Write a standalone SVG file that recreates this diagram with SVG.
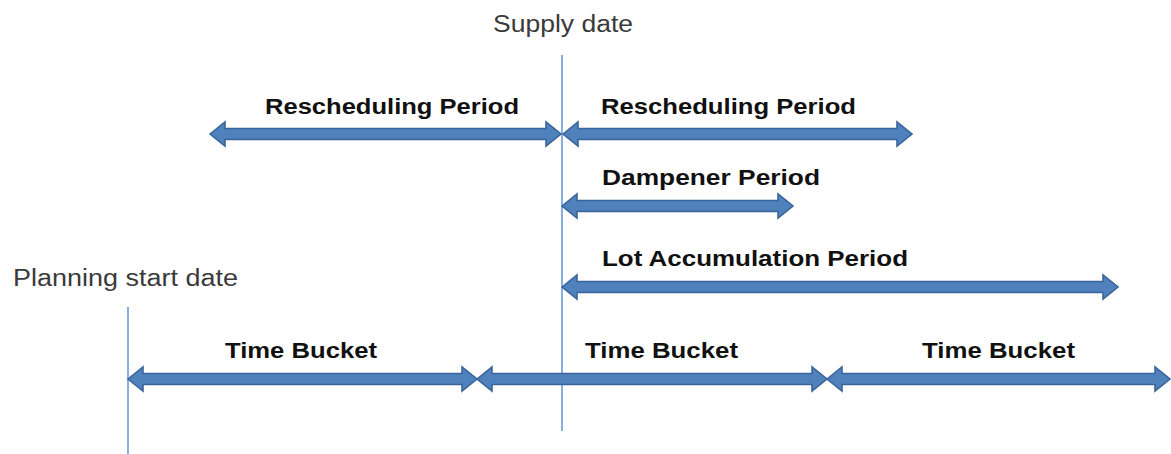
<svg xmlns="http://www.w3.org/2000/svg" width="1171" height="454" viewBox="0 0 1171 454">
<style>
.bar{fill:#4F81BD;stroke:#3A659A;stroke-width:1.6;stroke-linejoin:miter}
.vline{stroke:#6A9BD6;stroke-width:1.6;fill:none}
.lbl{font-family:"Liberation Sans",Arial,sans-serif;font-weight:bold;font-size:22px;fill:#111}
.date{font-family:"Liberation Sans",Arial,sans-serif;font-size:23px;fill:#3a3a3a}
</style>
<rect width="1171" height="454" fill="#fff"/>
<g id="markers">
<line class="vline" x1="562" y1="55" x2="562" y2="431"/>
<line class="vline" x1="128" y1="307" x2="128" y2="454"/>
</g>
<g id="supply-date"><text class="date" x="493" y="32" textLength="140" lengthAdjust="spacingAndGlyphs">Supply date</text></g>
<g id="planning-start-date"><text class="date" x="13" y="286" textLength="225" lengthAdjust="spacingAndGlyphs">Planning start date</text></g>
<g id="connectors">
<path id="resched-left" class="bar" d="M210,134 L225,122 L225,128.5 L546,128.5 L546,122 L561,134 L546,146 L546,139.5 L225,139.5 L225,146 Z"/>
<path id="resched-right" class="bar" d="M563,134 L578,122 L578,128.5 L897,128.5 L897,122 L912,134 L897,146 L897,139.5 L578,139.5 L578,146 Z"/>
<path id="dampener" class="bar" d="M562,206 L577,194 L577,200.5 L778,200.5 L778,194 L793,206 L778,218 L778,211.5 L577,211.5 L577,218 Z"/>
<path id="lot-acc" class="bar" d="M562,287 L577,275 L577,281.5 L1103,281.5 L1103,275 L1118,287 L1103,299 L1103,292.5 L577,292.5 L577,299 Z"/>
<path id="bucket-1" class="bar" d="M128,379 L143,367 L143,373.5 L462,373.5 L462,367 L477,379 L462,391 L462,384.5 L143,384.5 L143,391 Z"/>
<path id="bucket-2" class="bar" d="M477,379 L492,367 L492,373.5 L812,373.5 L812,367 L827,379 L812,391 L812,384.5 L492,384.5 L492,391 Z"/>
<path id="bucket-3" class="bar" d="M827,379 L842,367 L842,373.5 L1155,373.5 L1155,367 L1170,379 L1155,391 L1155,384.5 L842,384.5 L842,391 Z"/>
</g>
<g id="label-resched-left"><text class="lbl" x="265" y="114" textLength="254" lengthAdjust="spacingAndGlyphs">Rescheduling Period</text></g>
<g id="label-resched-right"><text class="lbl" x="601" y="114" textLength="255" lengthAdjust="spacingAndGlyphs">Rescheduling Period</text></g>
<g id="label-dampener"><text class="lbl" x="602" y="185" textLength="218" lengthAdjust="spacingAndGlyphs">Dampener Period</text></g>
<g id="label-lot-acc"><text class="lbl" x="602" y="266" textLength="306" lengthAdjust="spacingAndGlyphs">Lot Accumulation Period</text></g>
<g id="label-bucket-1"><text class="lbl" x="225" y="358" textLength="152" lengthAdjust="spacingAndGlyphs">Time Bucket</text></g>
<g id="label-bucket-2"><text class="lbl" x="585" y="358" textLength="153" lengthAdjust="spacingAndGlyphs">Time Bucket</text></g>
<g id="label-bucket-3"><text class="lbl" x="922" y="358" textLength="153" lengthAdjust="spacingAndGlyphs">Time Bucket</text></g>
</svg>
